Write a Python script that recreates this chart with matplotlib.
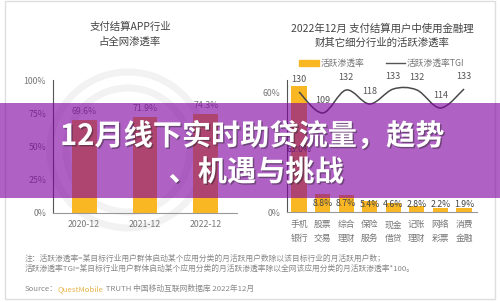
import matplotlib.pyplot as plt
import matplotlib.patheffects as pe
from matplotlib.patches import Rectangle, Circle
from matplotlib.path import Path
from matplotlib.patches import PathPatch
from matplotlib.lines import Line2D
from matplotlib.patches import Patch
import numpy as np

plt.rcParams['font.family'] = ['Noto Sans CJK SC', 'DejaVu Sans']

# 左图数据
years = ['2020-12', '2021-12', '2022-12']
pen_all = [69.6, 71.9, 74.3]

# 右图数据
cats = ['手机\n银行', '股票\n交易', '综合\n理财', '保险\n服务', '现金\n借贷', '记账\n理财', '网络\n彩票', '消费\n金融']
active_pen = [63.0, 8.8, 8.7, 5.4, 4.6, 2.8, 2.2, 1.9]
tgi = [130, 109, 132, 118, 133, 132, 114, 133]

title_l1 = '12月线下实时助贷流量，趋势'
title_l2 = '、机遇与挑战'

W, H = 500, 302
fig = plt.figure(figsize=(5, 3.02), dpi=100)
fig.patch.set_facecolor('white')

def box(x0, y0, x1, y1):
    return [x0 / W, 1 - y1 / H, (x1 - x0) / W, (y1 - y0) / H]

tick_c = '#777777'
bar_c = '#F9B723'

# 背景装饰
bg = fig.add_axes([0, 0, 1, 1])
bg.set_xlim(0, W)
bg.set_ylim(H, 0)
bg.axis('off')
for r in [78, 62]:
    bg.add_patch(Circle((128, 150), r, fill=False, lw=5, ec='#f2f2f2'))
bg.add_patch(Rectangle((5, 1), 490, 298, fill=False, lw=1, ec='#dedede'))

# 左图
ax1 = fig.add_axes(box(53, 80, 237, 213))
ax1.set_facecolor('none')
x1 = np.arange(len(years))
ax1.bar(x1, pen_all, width=0.41, color=bar_c, zorder=2)
for xi, v in zip(x1, pen_all):
    ax1.annotate(f'{v}%', (xi, v), xytext=(0, 3), textcoords='offset points',
                 ha='center', va='bottom', fontsize=6.3, color=tick_c)
ax1.set_xlim(-0.51, 2.51)
ax1.set_ylim(0, 100)
ax1.set_yticks([0, 25, 50, 75, 100], ['0%', '25%', '50%', '75%', '100%'])
ax1.set_xticks(x1, years)
ax1.tick_params(length=0, labelsize=6.3, colors=tick_c, pad=5)
for s in ['top', 'right']:
    ax1.spines[s].set_visible(False)
ax1.spines['left'].set_color('#555555')
ax1.spines['bottom'].set_color('#999999')
ax1.spines['left'].set_linewidth(0.8)
ax1.spines['bottom'].set_linewidth(0.8)

fig.text(130 / W, 1 - 27 / H, '支付结算APP行业', ha='center', va='center', fontsize=7.5, color='#444444')
fig.text(130 / W, 1 - 42 / H, '占全网渗透率', ha='center', va='center', fontsize=7.5, color='#444444')

# 右图
ax2 = fig.add_axes(box(287, 80, 477, 212))
ax2.set_facecolor('none')
x2 = np.arange(len(cats))
ax2.bar(x2, active_pen, width=0.64, color=bar_c, zorder=2)
for xi, v in zip(x2, active_pen):
    ax2.text(xi, max(v / 2, 3.9), f'{v}%', ha='center', va='center', fontsize=6.3, color='#444444', zorder=3)
ax2.set_xlim(-0.51, 7.55)
ax2.set_ylim(0, 66)
ax2.set_yticks([0, 60], ['0%', '60%'])
ax2.set_xticks(x2, cats)
ax2.tick_params(length=0, labelsize=6.3, colors=tick_c, pad=6)
for lab in ax2.get_xticklabels():
    lab.set_linespacing(1.6)
for s in ['top', 'right']:
    ax2.spines[s].set_visible(False)
ax2.spines['left'].set_color('#555555')
ax2.spines['bottom'].set_color('#999999')
ax2.spines['left'].set_linewidth(0.8)
ax2.spines['bottom'].set_linewidth(0.8)
ax2.yaxis.set_tick_params(pad=5)

# TGI 平滑曲线
ax3 = ax2.twinx()
ax3.set_ylim(10, 142)
ax3.axis('off')
px = np.array(x2, dtype=float)
py = np.array(tgi, dtype=float)
ppx = np.concatenate([[px[0]], px, [px[-1]]])
ppy = np.concatenate([[py[0]], py, [py[-1]]])
verts = [(px[0], py[0])]
codes = [Path.MOVETO]
for i in range(1, len(ppx) - 2):
    c1 = (ppx[i] + (ppx[i + 1] - ppx[i - 1]) / 6, ppy[i] + (ppy[i + 1] - ppy[i - 1]) / 6)
    c2 = (ppx[i + 1] - (ppx[i + 2] - ppx[i]) / 6, ppy[i + 1] - (ppy[i + 2] - ppy[i]) / 6)
    verts += [c1, c2, (ppx[i + 1], ppy[i + 1])]
    codes += [Path.CURVE4] * 3
ax3.add_patch(PathPatch(Path(verts, codes), fill=False, ec='#4a4a4a', lw=1.1, zorder=4))
for xi, v in zip(px, py):
    ax3.annotate(f'{int(v)}', (xi, v), xytext=(0, 6), textcoords='offset points',
                 ha='center', va='bottom', fontsize=6.5, color='#555555')

handles = [Patch(color=bar_c, label='活跃渗透率'),
           Line2D([0], [0], color='#555555', lw=1, label='活跃渗透率TGI')]
leg = ax2.legend(handles=handles, ncol=2, loc='lower center', bbox_to_anchor=(0.5, 1.03),
                 frameon=False, fontsize=6.3, handlelength=2.2, handleheight=0.8,
                 columnspacing=2.5, handletextpad=0.2)
for t in leg.get_texts():
    t.set_color(tick_c)

fig.text(382 / W, 1 - 29 / H, '2022年12月 支付结算用户中使用金融理', ha='center', va='center', fontsize=7.5, color='#444444')
fig.text(382 / W, 1 - 43 / H, '财其它细分行业的活跃渗透率', ha='center', va='center', fontsize=7.5, color='#444444')

# 注释
note_c = '#888888'
fig.text(25 / W, 1 - 259 / H, '注：活跃渗透率=某目标行业用户群体启动某个应用分类的月活跃用户数除以该目标行业的月活跃用户数；',
         ha='left', va='center', fontsize=5.6, color=note_c)
fig.text(25 / W, 1 - 269 / H, '活跃渗透率TGI=某目标行业用户群体启动某个应用分类的月活跃渗透率除以全网该应用分类的月活跃渗透率*100。',
         ha='left', va='center', fontsize=5.6, color=note_c)
t1 = fig.text(25 / W, 1 - 289 / H, 'Source：', ha='left', va='center', fontsize=5.6, color=note_c)
t2 = plt.annotate('QuestMobile', xy=(1, 0.5), xycoords=t1, va='center', ha='left', fontsize=5.6, color='#E8B54A')
t3 = plt.annotate(' TRUTH 中国移动互联网数据库 2022年12月', xy=(1, 0.5), xycoords=t2, va='center', ha='left', fontsize=5.6, color=note_c)

# 紫色横幅
ov = fig.add_axes([0, 0, 1, 1])
ov.set_xlim(0, W)
ov.set_ylim(H, 0)
ov.axis('off')
ov.add_patch(Rectangle((0, 103), W, 95, color='#7F00A0', alpha=0.62, lw=0))
shadow = [pe.SimplePatchShadow(offset=(1, -1), shadow_rgbFace='#222222', alpha=0.45), pe.Normal()]
ov.text(252, 136, title_l1, ha='center', va='center', fontsize=21, fontweight='bold',
        color='white', path_effects=shadow)
ov.text(256, 172, title_l2, ha='center', va='center', fontsize=21, fontweight='bold',
        color='white', path_effects=shadow)

fig.savefig('out.png', dpi=100)
